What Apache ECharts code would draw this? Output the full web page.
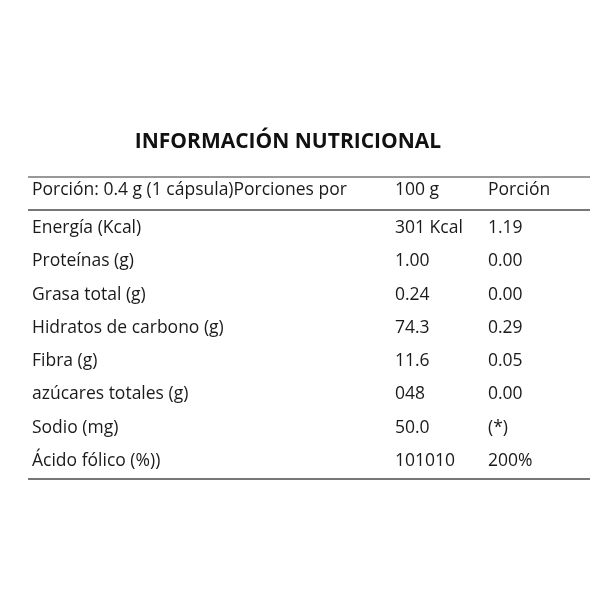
<!DOCTYPE html>
<html><head><meta charset="utf-8">
<script src="https://cdn.jsdelivr.net/npm/echarts@6/dist/echarts.min.js"></script>
<style>html,body{margin:0;padding:0;background:#fff}#c{width:610px;height:610px}</style>
</head><body><div id="c"></div>
<script>
const title = 'INFORMACIÓN NUTRICIONAL';
const headers = ['Porción: 0.4 g (1 cápsula)Porciones por', '100 g', 'Porción'];
const nutrients = ['Energía (Kcal)', 'Proteínas (g)', 'Grasa total (g)', 'Hidratos de carbono (g)', 'Fibra (g)', 'azúcares totales (g)', 'Sodio (mg)', 'Ácido fólico (%))'];
const per100g = ['301 Kcal', '1.00', '0.24', '74.3', '11.6', '048', '50.0', '101010'];
const perServing = ['1.19', '0.00', '0.00', '0.29', '0.05', '0.00', '(*)', '200%'];

const chart = echarts.init(document.getElementById('c'));
const font = '"Open Sans", "Noto Sans", sans-serif';
const colX = [32, 395, 488];
const els = [];
els.push({type:'text', x:288, y:142, style:{text:title, font:'bold 21px "Open Sans", sans-serif', fill:'#111', textAlign:'center', textVerticalAlign:'middle'}});
function txt(s, x, y){ els.push({type:'text', x:x, y:y, style:{text:s, font:'17.5px '+font, fill:'#1a1a1a', textVerticalAlign:'middle'}}); }
headers.forEach((h,i)=>txt(h, colX[i], 190));
nutrients.forEach((n,i)=>{
  const y = 228 + i*33.3;
  txt(n, colX[0], y); txt(per100g[i], colX[1], y); txt(perServing[i], colX[2], y);
});
els.push({type:'line', shape:{x1:28,y1:177,x2:590,y2:177}, style:{stroke:'#333', lineWidth:1}});
els.push({type:'line', shape:{x1:28,y1:210,x2:590,y2:210}, style:{stroke:'#777', lineWidth:2}});
els.push({type:'line', shape:{x1:28,y1:479,x2:590,y2:479}, style:{stroke:'#777', lineWidth:2}});
chart.setOption({backgroundColor:'#fff', graphic:{elements:els}});
</script></body></html>
